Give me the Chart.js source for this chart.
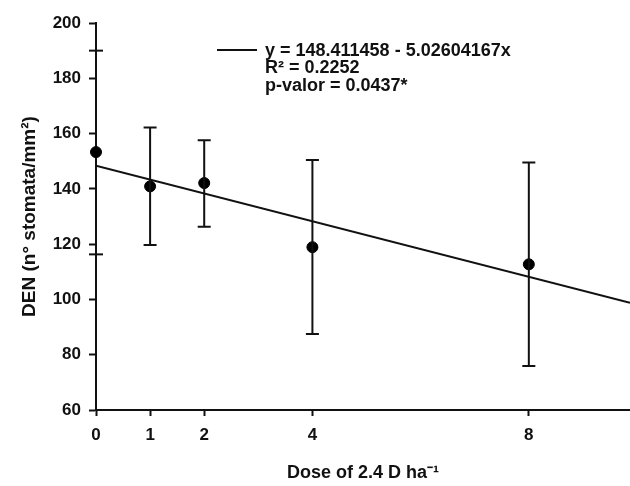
<!DOCTYPE html>
<html>
<head>
<meta charset="utf-8">
<script src="https://cdn.jsdelivr.net/npm/chart.js@4/dist/chart.umd.min.js"></script>
<style>
html,body{margin:0;padding:0;background:#fff;}
#wrap{width:630px;height:486px;position:relative;}
</style>
</head>
<body>
<div id="wrap"><canvas id="c" width="630" height="486"></canvas></div>
<script>
// ---- data ----
const doses = [0, 1, 2, 4, 8];
const density = [153.3, 140.9, 142.1, 118.9, 112.7];
const errLow = [153.3, 119.7, 126.3, 87.5, 75.9];
const errHigh = [153.3, 162.2, 157.6, 150.4, 149.5];
const regX = [0, 9.87];
const regY = [148.41, 98.8];
const xTickValues = [0, 1, 2, 4, 8];
const yTickValues = [60, 80, 100, 120, 140, 160, 180, 200];
const extraYMarks = [190, 116.3];
const legendLines = ['y = 148.411458 - 5.02604167x', 'R\u00B2 = 0.2252', 'p-valor = 0.0437*'];
const xTitle = 'Dose of 2.4 D ha\u207B\u00B9';
const yTitle = 'DEN (n\u00B0 stomata/mm\u00B2)';

const FONT = '"Liberation Sans", Arial, sans-serif';

const errorBars = {
  id: 'errorBars',
  afterDatasetsDraw(chart) {
    const {ctx, scales: {x, y}} = chart;
    ctx.save();
    ctx.strokeStyle = '#111';
    ctx.lineWidth = 2;
    doses.forEach((d, i) => {
      if (errHigh[i] === errLow[i]) return;
      const px = x.getPixelForValue(d);
      const pt = y.getPixelForValue(errHigh[i]);
      const pb = y.getPixelForValue(errLow[i]);
      ctx.beginPath();
      ctx.moveTo(px, pt); ctx.lineTo(px, pb);
      ctx.moveTo(px - 6.5, pt); ctx.lineTo(px + 6.5, pt);
      ctx.moveTo(px - 6.5, pb); ctx.lineTo(px + 6.5, pb);
      ctx.stroke();
    });
    extraYMarks.forEach(v => {
      const py = y.getPixelForValue(v);
      const ax = x.getPixelForValue(0);
      ctx.beginPath();
      ctx.moveTo(ax - 7, py); ctx.lineTo(ax + 7, py);
      ctx.stroke();
    });
    ctx.restore();
  }
};

const eqLegend = {
  id: 'eqLegend',
  afterDraw(chart) {
    const ctx = chart.ctx;
    ctx.save();
    ctx.strokeStyle = '#111';
    ctx.lineWidth = 2;
    ctx.beginPath();
    ctx.moveTo(217, 50); ctx.lineTo(257, 50);
    ctx.stroke();
    ctx.fillStyle = '#111';
    ctx.font = 'bold 18px ' + FONT;
    ctx.textBaseline = 'middle';
    ctx.textAlign = 'left';
    legendLines.forEach((t, i) => ctx.fillText(t, 265, 51 + i * 17.5));
    ctx.restore();
  }
};

new Chart(document.getElementById('c'), {
  type: 'scatter',
  data: {
    datasets: [
      {
        type: 'line',
        label: 'fit',
        data: regX.map((v, i) => ({x: v, y: regY[i]})),
        borderColor: '#111',
        borderWidth: 2,
        pointRadius: 0,
        fill: false,
        order: 2
      },
      {
        label: 'DEN',
        data: doses.map((v, i) => ({x: v, y: density[i]})),
        backgroundColor: '#000',
        borderColor: '#000',
        pointRadius: 5.5,
        pointHoverRadius: 5.5,
        clip: false,
        order: 1
      }
    ]
  },
  options: {
    responsive: false,
    animation: false,
    layout: {autoPadding: false, padding: {top: 23, right: 0, left: 0, bottom: 0}},
    plugins: {legend: {display: false}, tooltip: {enabled: false}},
    scales: {
      x: {
        type: 'linear',
        min: 0,
        max: 9.87,
        afterBuildTicks(s) { s.ticks = xTickValues.map(v => ({value: v})); },
        grid: {drawOnChartArea: false, drawTicks: true, tickLength: 6, tickWidth: 2, color: '#111'},
        border: {display: true, color: '#111', width: 2},
        ticks: {color: '#111', font: {family: FONT, size: 17, weight: 'bold'}, padding: 9, maxRotation: 0},
        title: {display: true, text: xTitle, color: '#111', font: {family: FONT, size: 18, weight: 'bold'}, padding: {top: 16, bottom: 2}},
        afterFit(s) { s.height = 76; }
      },
      y: {
        type: 'linear',
        min: 60,
        max: 200,
        afterBuildTicks(s) { s.ticks = yTickValues.map(v => ({value: v})); },
        grid: {drawOnChartArea: false, drawTicks: true, tickLength: 7, tickWidth: 2, color: '#111'},
        border: {display: true, color: '#111', width: 2},
        ticks: {color: '#111', font: {family: FONT, size: 17, weight: 'bold'}, padding: 8},
        title: {display: true, text: yTitle, color: '#111', font: {family: FONT, size: 19, weight: 'bold'}, padding: {top: 18, bottom: 10}},
        afterFit(s) { s.width = 96; }
      }
    }
  },
  plugins: [errorBars, eqLegend]
});
</script>
</body>
</html>
